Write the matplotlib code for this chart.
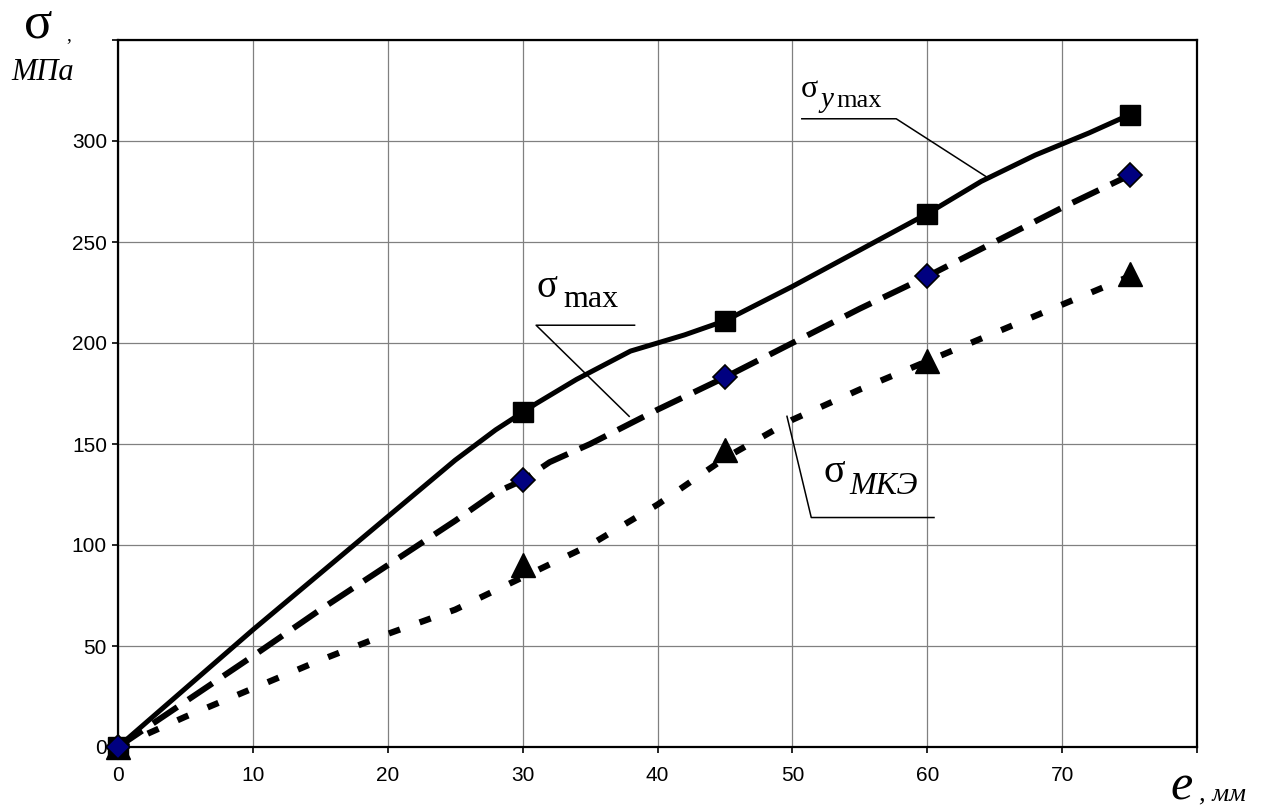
import matplotlib
matplotlib.use("Agg")
import matplotlib.pyplot as plt
from matplotlib.ticker import FixedLocator, FixedFormatter

plt.rcParams['lines.scale_dashes'] = False

# ---------------- data ----------------
# measured points (markers)
e_pts = [0, 30, 45, 60, 75]
sigma_y_max_pts = [0, 166, 211, 264, 313]
sigma_max_pts = [0, 132, 183, 233, 283]
sigma_mke_pts = [0, 90, 147, 191, 234]

# calculated curves
e_curve_y = [0, 5, 10, 15, 20, 25, 28, 31, 34, 36, 38, 40, 42, 45, 50, 55, 60, 64, 68, 72, 75]
sigma_y_max_curve = [0, 29, 58, 86, 114, 142, 157, 170, 182, 189, 196, 200, 204, 211, 228, 246, 264, 280, 293, 304, 313]

e_curve_m = [0, 4, 6, 8, 10, 15, 20, 25, 28, 30, 32, 35, 40, 45, 50, 55, 60, 65, 70, 75]
sigma_max_curve = [0, 18, 27, 36, 45, 68, 90, 112, 126, 132, 141, 150, 167, 183, 200, 217, 233, 250, 267, 283]

e_curve_k = [0, 5, 10, 15, 20, 25, 30, 35, 40, 45, 50, 55, 60, 65, 70, 75]
sigma_mke_curve = [0, 15, 29, 43, 56, 68, 84, 100, 120, 143, 162, 177, 191, 205, 219, 233]

x_ticks = [0, 10, 20, 30, 40, 50, 60, 70, 80]
x_tick_labels = ['0', '10', '20', '30', '40', '50', '60', '70', '']
y_ticks = [0, 50, 100, 150, 200, 250, 300, 350]
y_tick_labels = ['0', '50', '100', '150', '200', '250', '300', '']

# ---------------- figure ----------------
W, H = 1268, 809
fig = plt.figure(figsize=(W / 100, H / 100), dpi=100)
ax = fig.add_axes([118 / W, 1 - 747 / H, (1197 - 118) / W, (747 - 40) / H])

ax.set_xlim(0, 80)
ax.set_ylim(0, 350)
ax.xaxis.set_major_locator(FixedLocator(x_ticks))
ax.xaxis.set_major_formatter(FixedFormatter(x_tick_labels))
ax.yaxis.set_major_locator(FixedLocator(y_ticks))
ax.yaxis.set_major_formatter(FixedFormatter(y_tick_labels))
ax.grid(True, color='#808080', linewidth=0.9)
ax.set_axisbelow(True)
for s in ax.spines.values():
    s.set_linewidth(1.6)
    s.set_color('black')
ax.tick_params(axis='both', direction='out', length=4, width=1.2, labelsize=15,
               labelcolor='black')
ax.tick_params(axis='y', pad=4)
ax.tick_params(axis='x', pad=10)
for lbl in ax.get_xticklabels() + ax.get_yticklabels():
    lbl.set_fontfamily('Liberation Sans')

# curves
ax.plot(e_curve_y, sigma_y_max_curve, color='black', linewidth=3.6,
        solid_capstyle='butt', zorder=3)
ax.plot(e_curve_m, sigma_max_curve, color='black', linewidth=4.3,
        dashes=(21, 9.5), dash_capstyle='butt', zorder=3)
ax.plot(e_curve_k, sigma_mke_curve, color='black', linewidth=4.5,
        dashes=(8.5, 15), dash_capstyle='butt', zorder=3)

# markers
ax.plot(e_pts, sigma_y_max_pts, linestyle='none', marker='s', markersize=14,
        markerfacecolor='black', markeredgecolor='black', zorder=5, clip_on=False)
ax.plot(e_pts, sigma_max_pts, linestyle='none', marker='D', markersize=12,
        markerfacecolor='#000080', markeredgecolor='black', markeredgewidth=1.2,
        zorder=5, clip_on=False)
ax.plot(e_pts, sigma_mke_pts, linestyle='none', marker='^', markersize=17,
        markerfacecolor='black', markeredgecolor='black', zorder=4, clip_on=False)

# leader lines
lead_kw = dict(color='black', linewidth=1.1, zorder=6)
ax.plot([50.7, 57.7, 64.4], [311, 311, 282.2], **lead_kw)
ax.plot([38.3, 31.0, 37.9], [208.8, 208.8, 163.7], **lead_kw)
ax.plot([49.6, 51.4, 60.5], [163.7, 113.6, 113.6], **lead_kw)

serif = 'Liberation Serif'
# sigma_y max label
ax.text(50.6, 322, 'σ', fontsize=23, family=serif, va='baseline', ha='left')
ax.text(52.1, 317, 'y', fontsize=21, family=serif, style='italic', va='baseline', ha='left')
ax.text(53.3, 317, 'max', fontsize=19, family=serif, va='baseline', ha='left')
# sigma max label
ax.text(31.0, 223, 'σ', fontsize=28, family=serif, va='baseline', ha='left')
ax.text(33.0, 218, 'max', fontsize=23, family=serif, va='baseline', ha='left')
# sigma MKE label
ax.text(52.3, 131, 'σ', fontsize=29, family=serif, va='baseline', ha='left')
ax.text(54.2, 125, 'МКЭ', fontsize=23, family=serif, style='italic', va='baseline', ha='left')

# axis labels
fig.text(24 / W, 1 - 37 / H, 'σ', fontsize=38, family=serif, va='baseline', ha='left')
fig.text(66 / W, 1 - 40 / H, ',', fontsize=14, family=serif, va='baseline', ha='left')
fig.text(11 / W, 1 - 80 / H, 'МПа', fontsize=22, family=serif, style='italic',
         va='baseline', ha='left')
fig.text(1170 / W, 1 - 800 / H, 'e', fontsize=36, family=serif, style='italic',
         va='baseline', ha='left')
fig.text(1199 / W, 1 - 800 / H, ', мм', fontsize=19, family=serif, style='italic',
         va='baseline', ha='left')

fig.savefig('out.png', dpi=100, facecolor='white')
